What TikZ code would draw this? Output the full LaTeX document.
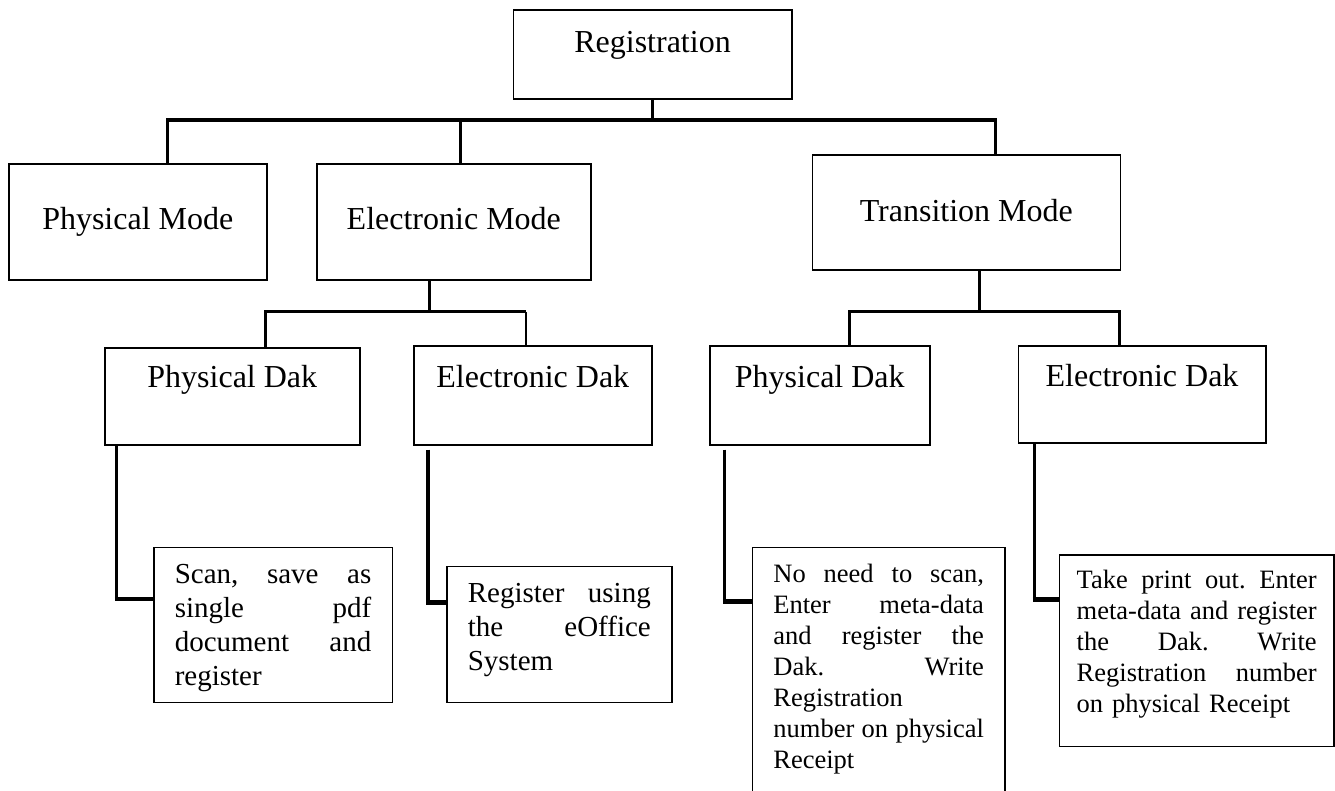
\documentclass[tikz,border=0pt]{standalone}
\usepackage{fontspec}
\setmainfont{Liberation Serif}

\begin{document}
\begin{tikzpicture}[x=0.5pt, y=-0.5pt,
        titlebox/.style={draw, line width=0.8pt, inner sep=0pt, anchor=north west,
            font=\fontsize{16}{19}\selectfont},
        notebox/.style={draw, line width=0.8pt, inner sep=0pt, anchor=north west,
            align=left, font=\fontsize{14.5}{17}\selectfont},
        smallnote/.style={notebox, font=\fontsize{13.25}{15.5}\selectfont},
        conn/.style={line width=1.6pt},
        stub/.style={line width=2.3pt},
        thinconn/.style={line width=0.8pt}]

        \useasboundingbox (0, 0) rectangle (1335, 791);

        \node[titlebox, minimum width=139.25pt, text height=21.5pt, text depth=23pt] (reg) at (512.5, 9) {Registration};

        \node[titlebox, minimum width=129pt, text height=32.7pt, text depth=25.3pt] (pmode) at (8, 163) {Physical Mode};
        \node[titlebox, minimum width=137pt, text height=32.7pt, text depth=25.3pt] (emode) at (316, 163) {Electronic Mode};
        \node[titlebox, minimum width=154pt, text height=33.25pt, text depth=24.25pt] (tmode) at (811.5, 154) {Transition Mode};

        \node[titlebox, minimum width=127.5pt, text height=20pt, text depth=28.5pt] (pdakE) at (104, 347) {Physical Dak};
        \node[titlebox, minimum width=119pt, text height=21pt, text depth=28.5pt] (edakE) at (413, 345) {Electronic Dak};
        \node[titlebox, minimum width=110pt, text height=21pt, text depth=28.5pt] (pdakT) at (709, 345) {Physical Dak};
        \node[titlebox, minimum width=123.75pt, text height=20.5pt, text depth=28pt] (edakT) at (1017.5, 345) {Electronic Dak};

        \node[notebox, minimum width=119.25pt, text width=98.25pt, text height=18.15pt, text depth=59.35pt] (scan) at (153, 546.7)
            {Scan,\hfill save\hfill as\\ single\hfill pdf\\ document\hfill and\\ register};
        \node[notebox, minimum width=112.5pt, text width=91.5pt, text height=18.15pt, text depth=49.85pt] (eoffice) at (446, 565.7)
            {Register\hfill using\\ the\hfill eOffice\\ System};
        \node[smallnote, minimum width=126.15pt, text width=105.25pt, text height=17.5pt, text depth=130pt] (noscan) at (751.7, 546.7)
            {No\hfill need\hfill to\hfill scan,\\ Enter\hfill meta-data\\ and\hfill register\hfill the\\ Dak.\hfill Write\\ Registration\\ number\hfill on\hfill physical\\ Receipt};
        \node[smallnote, minimum width=137.1pt, text width=120pt, text height=17pt, text depth=78.85pt] (printout) at (1058.8, 554)
            {Take\hfill print\hfill out.\hfill Enter\\ meta-data\hfill and\hfill register\\ the\hfill Dak.\hfill Write\\ Registration\hfill number\\ on physical Receipt};

        \coordinate (modebar) at (0, 120);
        \coordinate (dakbar) at (0, 311.7);
        \coordinate (scan in) at ([yshift=-26.15pt]scan.north west);
        \coordinate (eoffice in) at ([yshift=-18.5pt]eoffice.north west);
        \coordinate (noscan in) at ([yshift=-27.5pt]noscan.north west);
        \coordinate (printout in) at ([yshift=-22.65pt]printout.north west);

        \draw[conn] (reg.south) -- (reg.south |- modebar);
        \draw[conn] ([xshift=15pt]pmode.north) |- ([xshift=14.5pt]tmode.north |- modebar) -- ([xshift=14.5pt]tmode.north);
        \draw[conn] ([xshift=3.5pt]emode.north) -- ([xshift=3.5pt]emode.north |- modebar);

        \draw[conn] ([xshift=-12.2pt]emode.south) -- ([xshift=-12.2pt]emode.south |- dakbar);
        \draw[conn] ([xshift=16.75pt]pdakE.north) |- ([xshift=-3.5pt]edakE.north |- dakbar);
        \draw[thinconn] ([xshift=-3.5pt]edakE.north) -- ([xshift=-3.5pt]edakE.north |- dakbar);

        \draw[conn] ([xshift=6.55pt]tmode.south) -- ([xshift=6.55pt]tmode.south |- dakbar);
        \draw[conn] ([xshift=15pt]pdakT.north) |- ([xshift=-11.3pt]edakT.north |- dakbar) -- ([xshift=-11.3pt]edakT.north);

        \draw[conn] ([xshift=6.25pt]pdakE.south west) |- (scan in);
        \draw[stub] ([xshift=5.45pt]pdakE.south west |- scan in) -- (scan in);
        \draw[conn] ([xshift=7.5pt, yshift=-2pt]edakE.south west) |- (eoffice in);
        \draw[stub] ([xshift=6.7pt]edakE.south west |- eoffice in) -- (eoffice in);
        \draw[conn] ([xshift=7.75pt, yshift=-2pt]pdakT.south west) |- (noscan in);
        \draw[stub] ([xshift=6.95pt]pdakT.south west |- noscan in) -- (noscan in);
        \draw[conn] ([xshift=8.5pt]edakT.south west) |- (printout in);
        \draw[stub] ([xshift=7.7pt]edakT.south west |- printout in) -- (printout in);
    \end{tikzpicture}
\end{document}
